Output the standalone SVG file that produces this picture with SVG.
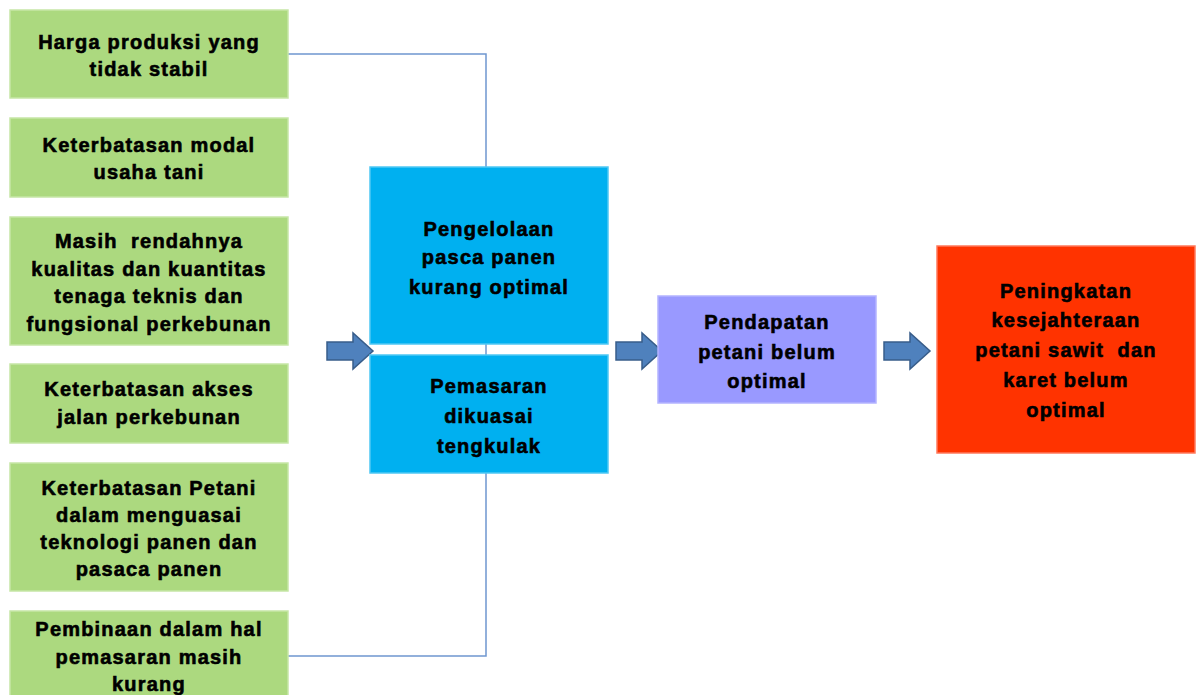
<svg xmlns="http://www.w3.org/2000/svg" width="1200" height="695" viewBox="0 0 1200 695">
  <defs>
    <style>
      .lbl { font-family: "Liberation Sans", Arial, sans-serif; font-weight: bold; font-size: 20px; letter-spacing: 1.2px; fill: #000; stroke: #000; stroke-width: 0.6px; text-anchor: middle; white-space: pre; }
      .green { fill: #ACD97F; stroke: #C6E6A6; stroke-width: 1.5; }
      .blue { fill: #00B0F0; stroke: #4FC8F4; stroke-width: 1.5; }
      .purple { fill: #9999FF; stroke: #B4B4FF; stroke-width: 1.5; }
      .red { fill: #FF3300; stroke: #FF7A5C; stroke-width: 1.5; }
      .link { fill: none; stroke: #6F97CF; stroke-width: 1.5; }
      .barrow { fill: #4F81BD; stroke: #385D8A; stroke-width: 1.5; }
    </style>
    <path id="blockArrow" d="M0,-9 H26 V-18 L46,0 L26,18 V9 H0 Z"/>
  </defs>

  <rect width="1200" height="695" fill="#fff"/>

  <!-- connector lines -->
  <g id="connectors">
    <polyline class="link" points="288,54 486,54 486,167"/>
    <line class="link" x1="486" y1="344" x2="486" y2="355"/>
    <polyline class="link" points="486,473 486,656 288,656"/>
    <use href="#blockArrow" class="barrow" x="327" y="351"/>
    <use href="#blockArrow" class="barrow" x="616" y="351"/>
    <use href="#blockArrow" class="barrow" x="884" y="351"/>
  </g>

  <!-- causes -->
  <g id="n1">
    <rect class="green" x="10" y="10" width="278" height="88"/>
    <text class="lbl" x="149" y="49">Harga produksi yang</text>
    <text class="lbl" x="149" y="76">tidak stabil</text>
  </g>
  <g id="n2">
    <rect class="green" x="10" y="118" width="278" height="79"/>
    <text class="lbl" x="149" y="152">Keterbatasan modal</text>
    <text class="lbl" x="149" y="179">usaha tani</text>
  </g>
  <g id="n3">
    <rect class="green" x="10" y="217" width="278" height="128"/>
    <text class="lbl" x="149" y="248">Masih  rendahnya</text>
    <text class="lbl" x="149" y="276">kualitas dan kuantitas</text>
    <text class="lbl" x="149" y="303">tenaga teknis dan</text>
    <text class="lbl" x="149" y="331">fungsional perkebunan</text>
  </g>
  <g id="n4">
    <rect class="green" x="10" y="364" width="278" height="79"/>
    <text class="lbl" x="149" y="396">Keterbatasan akses</text>
    <text class="lbl" x="149" y="424">jalan perkebunan</text>
  </g>
  <g id="n5">
    <rect class="green" x="10" y="463" width="278" height="128"/>
    <text class="lbl" x="149" y="495">Keterbatasan Petani</text>
    <text class="lbl" x="149" y="522">dalam menguasai</text>
    <text class="lbl" x="149" y="549">teknologi panen dan</text>
    <text class="lbl" x="149" y="576">pasaca panen</text>
  </g>
  <g id="n6">
    <rect class="green" x="10" y="611" width="278" height="100"/>
    <text class="lbl" x="149" y="636">Pembinaan dalam hal</text>
    <text class="lbl" x="149" y="664">pemasaran masih</text>
    <text class="lbl" x="149" y="691">kurang</text>
  </g>

  <!-- core problems -->
  <g id="n7">
    <rect class="blue" x="370" y="167" width="238" height="177"/>
    <text class="lbl" x="489" y="236">Pengelolaan</text>
    <text class="lbl" x="489" y="264">pasca panen</text>
    <text class="lbl" x="489" y="294">kurang optimal</text>
  </g>
  <g id="n8">
    <rect class="blue" x="370" y="355" width="238" height="118"/>
    <text class="lbl" x="489" y="393">Pemasaran</text>
    <text class="lbl" x="489" y="423">dikuasai</text>
    <text class="lbl" x="489" y="453">tengkulak</text>
  </g>

  <!-- effects -->
  <g id="n9">
    <rect class="purple" x="658" y="296" width="218" height="107"/>
    <text class="lbl" x="767" y="329">Pendapatan</text>
    <text class="lbl" x="767" y="359">petani belum</text>
    <text class="lbl" x="767" y="388">optimal</text>
  </g>
  <g id="n10">
    <rect class="red" x="937" y="246" width="258" height="207"/>
    <text class="lbl" x="1066" y="298">Peningkatan</text>
    <text class="lbl" x="1066" y="327">kesejahteraan</text>
    <text class="lbl" x="1066" y="357">petani sawit  dan</text>
    <text class="lbl" x="1066" y="387">karet belum</text>
    <text class="lbl" x="1066" y="417">optimal</text>
  </g>
</svg>
